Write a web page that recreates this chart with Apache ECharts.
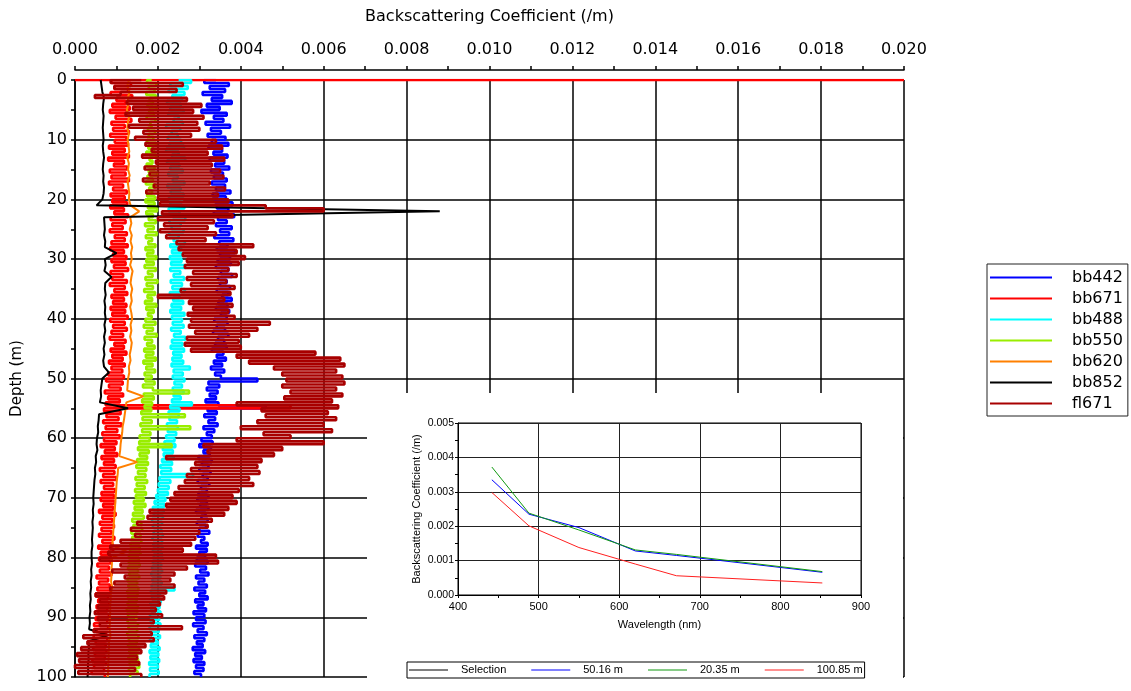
<!DOCTYPE html>
<html>
<head>
<meta charset="utf-8">
<title>Backscattering profiles</title>
<script src="https://cdn.jsdelivr.net/npm/echarts@6/dist/echarts.min.js"></script>
<style>
  html, body { margin: 0; padding: 0; background: #ffffff; }
  #chart { width: 1131px; height: 691px; }
</style>
</head>
<body>
<div id="chart"></div>
<script>
// ---- Depth profiles (values in 10^-3 /m, sampled top to bottom) ----
const MILLI = 0.001;
const fineStep = 0.5;   // m between samples for the noisy channels
const coarseStep = 1.0; // m between samples for the smooth channels

const bb442 = [
  3.40,3.12,3.71,3.25,3.62,3.08,3.55,3.30,3.78,3.18,3.49,3.05,3.66,3.35,3.58,3.15,3.74,3.28,3.52,3.20,3.63,
  3.30,3.70,3.22,3.55,3.34,3.68,3.25,3.60,3.38,3.72,3.28,3.57,3.35,3.66,3.30,3.62,3.40,3.75,3.32,3.64,
  3.38,3.80,3.42,3.70,3.35,3.84,3.45,3.66,3.40,3.78,3.50,3.72,3.36,3.82,3.48,3.68,3.42,3.86,3.50,3.74,
  3.44,3.76,3.40,3.70,3.52,3.79,3.45,3.66,3.50,3.74,3.42,3.70,3.55,3.78,3.46,3.68,3.40,3.72,3.52,3.66,
  3.36,3.68,3.42,3.62,3.33,3.70,3.45,3.60,3.38,3.66,3.30,3.58,3.42,3.64,3.35,3.55,3.28,3.60,3.38,3.52,
  4.40,3.22,3.48,3.18,3.44,3.25,3.40,3.15,3.46,4.60,3.20,3.42,3.12,3.38,3.22,3.44,3.10,3.36,3.18,3.30,
  3.05,3.32,3.00,3.28,3.10,3.25,2.98,3.30,3.06,3.22,3.00,3.27,3.08,3.20,2.96,3.24,3.04,3.18,2.98,3.22,
  2.95,3.18,3.02,3.22,2.92,3.15,3.05,3.20,2.94,3.16,3.00,3.24,2.96,3.12,3.04,3.20,2.92,3.18,3.00,3.14,
  2.94,3.20,2.90,3.16,3.02,3.22,2.92,3.12,2.98,3.18,2.88,3.14,3.00,3.20,2.90,3.10,2.96,3.16,2.86,3.12,
  2.92,3.15,2.85,3.10,2.96,3.18,2.88,3.12,2.94,3.08,2.84,3.14,2.90,3.06,2.86,3.12,2.92,3.10,2.88,3.04
];

const bb671 = [
  1.10,0.88,1.35,0.95,1.28,0.86,1.38,1.00,1.22,0.90,1.32,0.84,1.25,0.98,1.36,0.88,1.20,0.92,1.30,0.85,1.24,
  0.96,1.28,0.82,1.20,0.90,1.30,0.80,1.18,0.94,1.26,0.84,1.22,0.88,1.30,0.82,1.16,0.92,1.25,0.86,1.20,
  0.90,1.26,0.85,1.18,0.95,1.28,0.86,1.22,0.90,1.15,0.84,1.25,0.96,1.20,0.88,1.27,0.85,1.18,0.92,1.24,
  0.88,1.22,0.94,1.28,0.86,1.16,0.90,1.25,0.84,1.20,0.95,1.26,0.88,1.18,0.92,1.24,0.86,1.21,0.90,1.27,
  0.85,1.20,0.92,1.25,0.88,1.16,0.84,1.22,0.95,1.18,0.86,1.24,0.90,1.15,0.82,1.20,0.88,1.14,0.80,1.18,
  0.75,1.15,0.82,1.10,0.72,1.16,0.80,1.08,0.74,5.20,0.70,1.10,0.76,1.05,0.68,1.12,0.74,1.02,0.66,1.08,
  0.70,1.00,0.62,0.96,0.72,1.02,0.64,0.94,0.70,0.98,0.60,0.95,0.68,1.00,0.62,0.92,0.70,0.97,0.64,0.94,
  0.62,0.96,0.68,0.92,0.58,0.98,0.66,0.90,0.60,0.94,0.64,0.88,0.58,0.95,0.66,0.90,0.56,0.92,0.62,0.86,
  0.58,0.86,0.54,0.82,0.60,0.88,0.52,0.80,0.58,0.84,0.54,0.86,0.50,0.80,0.56,0.83,0.52,0.78,0.55,0.82,
  0.50,0.78,0.46,0.80,0.52,0.75,0.45,0.78,0.50,0.74,0.44,0.76,0.48,0.72,0.42,0.75,0.46,0.70,0.40,0.72
];
// surface sweep recorded by bb671 at 0 m before the cast
const bb671Surface = [0.0, 20.0];

const bb488 = [
  2.50,2.80,2.30,2.72,2.26,2.64,2.35,2.58,2.22,2.55,2.30,2.62,2.25,2.50,2.38,2.60,2.20,2.54,2.33,2.48,2.24,
  2.56,2.28,2.63,2.20,2.50,2.34,2.66,2.22,2.52,2.30,2.60,2.25,2.48,2.36,2.64,2.23,2.55,2.31,2.62,2.27,
  2.58,2.30,2.64,2.26,2.52,2.36,2.66,2.28,2.55,2.33,2.62,2.27,2.50,2.38,2.65,2.30,2.56,2.34,2.60,2.29,
  2.57,2.32,2.66,2.30,2.54,2.38,2.63,2.31,2.58,2.35,2.65,2.29,2.52,2.37,2.61,2.33,2.56,2.30,2.64,2.34,
  2.58,2.36,2.62,2.32,2.55,2.39,2.66,2.34,2.59,2.31,2.63,2.37,2.57,2.35,2.61,2.33,2.77,2.38,2.60,2.36,
  2.64,2.40,2.58,2.36,2.62,2.38,2.55,2.34,2.82,2.30,2.52,2.26,2.50,2.28,2.46,2.22,2.48,2.24,2.44,2.20,
  2.40,2.16,2.42,2.12,2.36,2.14,2.38,2.10,2.34,2.06,2.32,2.08,2.85,2.04,2.30,2.02,2.26,2.00,2.24,1.96,
  2.18,1.92,2.16,1.88,2.14,1.90,2.12,1.86,2.10,1.88,2.08,1.90,2.12,1.87,2.10,1.89,2.11,1.88,2.09,1.90,
  2.12,1.88,2.08,1.86,2.10,1.84,2.06,1.87,2.09,1.85,2.40,1.83,2.05,1.86,2.07,1.82,2.04,1.84,2.06,1.81,
  2.03,1.83,2.06,1.80,2.02,1.84,2.05,1.81,2.00,1.83,2.04,1.80,2.01,1.82,2.03,1.79,2.00,1.81,2.02,1.80
];

const bb550 = [
  1.85,1.74,1.96,1.78,1.92,1.72,1.95,1.80,1.88,1.75,1.97,1.79,1.90,1.73,1.94,1.82,1.86,1.76,1.93,1.78,1.89,
  1.74,1.95,1.77,1.90,1.72,1.96,1.80,1.87,1.73,1.92,1.78,1.98,1.75,1.88,1.71,1.94,1.79,1.86,1.74,1.93,
  1.70,1.92,1.76,1.98,1.72,1.88,1.78,1.95,1.69,1.90,1.75,1.97,1.71,1.86,1.77,1.94,1.70,1.89,1.74,1.96,
  1.72,1.90,1.68,1.95,1.76,1.87,1.70,1.99,1.73,1.88,1.67,1.93,1.75,1.86,1.69,1.96,1.72,1.90,1.76,1.85,
  1.70,1.94,1.66,1.88,1.73,1.97,1.68,1.86,1.74,1.92,1.67,1.89,1.71,1.95,1.65,1.87,1.72,1.93,1.68,1.85,
  1.70,1.92,1.64,1.88,2.75,1.66,1.90,1.62,1.86,1.68,1.84,1.60,2.65,1.63,1.85,1.58,2.78,1.62,1.82,1.56,
  1.80,1.55,2.33,1.52,1.78,1.56,1.74,1.50,1.76,1.48,1.72,1.52,1.70,1.46,1.74,1.49,1.68,1.45,1.71,1.47,
  1.66,1.42,1.70,1.44,1.63,1.40,1.66,1.38,1.60,1.41,1.62,1.36,1.58,1.38,1.60,1.34,1.56,1.33,1.58,1.30,
  1.54,1.30,1.56,1.28,1.52,1.31,1.55,1.27,1.50,1.29,1.53,1.26,1.51,1.28,1.49,1.27,1.52,1.25,1.50,1.28,
  1.48,1.27,1.52,1.29,1.50,1.26,1.53,1.30,1.49,1.28,1.54,1.31,1.50,1.29,1.52,1.32,1.55,1.30,1.51,1.33
];

const bb620 = [
  1.30,1.26,1.32,1.27,1.29,1.25,1.31,1.28,1.26,1.30,
  1.27,1.29,1.31,1.26,1.30,1.28,1.32,1.27,1.29,1.31,
  1.30,1.34,1.55,1.33,1.36,1.32,1.37,1.34,1.38,1.35,
  1.37,1.33,1.39,1.36,1.34,1.38,1.35,1.37,1.33,1.36,
  1.38,1.34,1.36,1.33,1.37,1.35,1.32,1.34,1.30,1.31,
  1.28,1.27,1.26,1.65,1.24,1.22,1.20,1.18,1.15,1.14,
  1.12,1.10,1.09,1.07,1.50,1.04,1.03,1.01,1.00,0.99,
  0.98,0.97,0.96,0.95,0.94,0.93,0.92,0.91,0.90,1.25,
  0.89,0.89,0.88,0.88,0.87,0.90,0.86,0.86,0.85,0.85,
  0.84,0.84,0.83,0.86,0.82,0.82,0.81,0.81,0.80,0.80,
  0.79
];

const bb852 = [
  0.62,0.64,0.66,0.70,0.68,0.67,0.69,0.68,0.67,0.68,
  0.69,0.67,0.68,0.70,0.68,0.67,0.69,0.68,0.70,0.69,
  0.66,0.52,8.80,0.70,0.71,0.72,0.70,0.73,0.72,1.00,
  0.72,0.74,0.71,0.88,0.73,0.72,0.74,0.71,0.73,0.72,
  0.74,0.71,0.73,0.70,0.72,0.69,0.71,0.68,0.70,0.82,
  0.66,0.64,0.62,0.63,0.60,1.28,0.58,0.57,0.55,0.56,
  0.53,0.52,0.54,0.50,0.51,0.48,0.49,0.47,0.46,0.45,
  0.44,0.45,0.43,0.44,0.42,0.43,0.42,0.41,0.42,0.40,
  0.40,0.41,0.39,0.40,0.38,0.39,0.37,0.38,0.36,0.37,
  0.35,0.36,0.34,0.80,0.33,0.34,0.32,0.33,0.31,0.32,
  0.30
];

const fl671 = [
  1.60,0.86,2.60,0.95,2.45,1.10,0.48,2.70,1.25,3.05,1.40,2.85,1.22,3.10,1.55,2.95,1.30,3.00,1.65,2.80,1.45,
  3.40,1.70,3.55,1.85,3.20,1.62,3.60,1.95,3.30,1.68,3.50,1.80,3.58,1.64,3.25,1.90,3.62,1.72,3.45,2.00,
  3.70,2.05,4.60,6.00,2.10,3.80,2.00,3.35,2.15,3.20,2.05,3.40,2.20,3.15,2.45,4.30,2.50,3.90,2.60,4.10,
  2.70,3.95,2.65,3.70,2.85,3.90,2.70,3.65,2.80,3.85,2.55,3.75,2.00,3.60,2.75,3.80,2.85,3.70,2.72,3.85,
  2.80,4.70,2.75,4.40,2.90,4.20,2.70,3.95,2.65,4.00,2.80,5.80,3.90,6.40,4.20,6.50,4.80,6.30,5.00,6.45,
  5.10,6.50,5.00,6.30,5.20,6.45,5.05,6.20,3.90,6.35,4.50,6.10,4.60,6.30,4.40,6.00,4.00,6.20,4.55,5.20,
  3.90,6.00,3.10,5.00,3.20,4.80,2.20,4.50,2.90,4.40,2.80,4.45,2.70,4.20,2.65,4.30,2.50,3.95,2.40,3.80,
  2.30,3.90,2.20,3.70,1.80,3.60,1.75,3.30,1.50,3.20,1.35,3.00,1.45,2.90,1.10,2.80,0.85,2.60,0.80,3.40,
  0.60,3.45,1.10,2.70,0.90,2.40,1.20,2.30,0.95,2.40,0.85,2.20,0.50,2.15,0.60,2.05,0.55,1.95,0.48,2.10,
  0.55,1.90,0.60,2.58,0.45,1.85,0.20,1.90,0.30,1.70,0.15,1.60,0.05,1.50,0.10,1.55,0.00,1.45,0.08,1.60
];

// ---- Spectra at selected depths (/m) ----
const wavelengths = [442, 488, 550, 620, 671, 852];
const spectrum5016 = [0.00335, 0.00235, 0.00196, 0.00128, 0.00115, 0.00066];
const spectrum2035 = [0.00372, 0.00238, 0.00189, 0.00131, 0.00118, 0.00068];
const spectrum10085 = [0.00298, 0.00201, 0.00138, 0.00090, 0.00056, 0.00035];

const depthTicks = { min: 0, max: 100, step: 10 };
const coefTicks = { min: 0, max: 0.02, step: 0.002 };
const waveTicks = { min: 400, max: 900, step: 100 };
const spectrumTicks = { min: 0, max: 0.005, step: 0.001 };

// ---- build series ----
const profile = (vals, step) => vals.map((v, i) => [v * MILLI, i * step]);
const pairs = (xs, ys) => xs.map((x, i) => [x, ys[i]]);

const MAIN_FONT = 'DejaVu Sans';
const INSET_FONT = 'Liberation Sans';

// noisy channels are drawn as horizontal strokes at each sample depth
function profileSeries(name, color, data, stepped, width) {
  return {
    name, type: 'line', xAxisIndex: 0, yAxisIndex: 0,
    data, symbol: 'none', showSymbol: false, color,
    step: stepped ? 'end' : false,
    lineStyle: { color, width: width || 1 },
    z: 2, silent: true
  };
}

function spectrumSeries(name, color, data) {
  return {
    name, type: 'line', xAxisIndex: 1, yAxisIndex: 1,
    data, symbol: 'none', showSymbol: false, color,
    lineStyle: { color, width: 1 },
    z: 60, silent: true
  };
}

const series = [
  profileSeries('bb442', '#0000ff', profile(bb442, fineStep), true, 2.6),
  profileSeries('bb671', '#ff0000',
    bb671Surface.map(v => [v * MILLI, 0]).concat(profile(bb671, fineStep)), true, 2.6),
  profileSeries('bb488', '#00ffff', profile(bb488, fineStep), true, 2.6),
  profileSeries('bb550', '#99ee00', profile(bb550, fineStep), true, 2.6),
  profileSeries('bb620', '#ff8000', profile(bb620, coarseStep), false, 2),
  profileSeries('bb852', '#000000', profile(bb852, coarseStep), false, 2),
  profileSeries('fl671', '#a80000', profile(fl671, fineStep), true, 2.6),
  spectrumSeries('Selection', '#000000', []),
  spectrumSeries('50.16 m', '#0000ff', pairs(wavelengths, spectrum5016)),
  spectrumSeries('20.35 m', '#109a10', pairs(wavelengths, spectrum2035)),
  spectrumSeries('100.85 m', '#ff2020', pairs(wavelengths, spectrum10085))
];

const blackLine = (w) => ({ lineStyle: { color: '#000', width: w } });

const option = {
  animation: false,
  backgroundColor: '#ffffff',
  textStyle: { fontFamily: MAIN_FONT, color: '#000' },
  grid: [
    { left: 75, right: 227, top: 80, bottom: 14, containLabel: false },
    { left: 458, right: 270, top: 423, bottom: 96, show: true,
      borderColor: '#000', borderWidth: 1, backgroundColor: 'transparent', z: 60 }
  ],
  graphic: [
    { type: 'rect', z: 50, silent: true,
      shape: { x: 367, y: 393, width: 536, height: 298 },
      style: { fill: '#ffffff' } }
  ],
  xAxis: [
    {
      gridIndex: 0, type: 'value', position: 'top', offset: 10,
      min: coefTicks.min, max: coefTicks.max, interval: coefTicks.step,
      name: 'Backscattering Coefficient (/m)', nameLocation: 'middle', nameGap: 45,
      nameTextStyle: { fontSize: 16, color: '#000', fontFamily: MAIN_FONT },
      axisLine: { onZero: false, ...blackLine(1.5) },
      axisTick: { length: 4, ...blackLine(1.5) },
      minorTick: { show: true, splitNumber: 2, length: 4, ...blackLine(1.5) },
      axisLabel: { fontSize: 16, color: '#000', margin: 12, fontFamily: MAIN_FONT,
        formatter: v => v.toFixed(3) },
      splitLine: { show: true, ...blackLine(1.5) }
    },
    {
      gridIndex: 1, type: 'value', position: 'bottom', z: 60,
      min: waveTicks.min, max: waveTicks.max, interval: waveTicks.step,
      name: 'Wavelength (nm)', nameLocation: 'middle', nameGap: 24,
      nameTextStyle: { fontSize: 11, color: '#000', fontFamily: INSET_FONT },
      axisLine: { onZero: false, ...blackLine(1) },
      axisTick: { length: 3, ...blackLine(1) },
      minorTick: { show: true, splitNumber: 2, length: 3, ...blackLine(1) },
      axisLabel: { fontSize: 11, color: '#000', margin: 6, fontFamily: INSET_FONT },
      splitLine: { show: true, lineStyle: { color: '#222', width: 1 } }
    }
  ],
  yAxis: [
    {
      gridIndex: 0, type: 'value', inverse: true, position: 'left',
      min: depthTicks.min, max: depthTicks.max, interval: depthTicks.step,
      name: 'Depth (m)', nameLocation: 'middle', nameGap: 50, nameRotate: 90,
      nameTextStyle: { fontSize: 15, color: '#000', fontFamily: MAIN_FONT },
      axisLine: { onZero: false, ...blackLine(1.5) },
      axisTick: { length: 4, ...blackLine(1.5) },
      minorTick: { show: true, splitNumber: 2, length: 4, ...blackLine(1.5) },
      axisLabel: { fontSize: 16, color: '#000', margin: 8, fontFamily: MAIN_FONT },
      splitLine: { show: true, ...blackLine(1.5) }
    },
    {
      gridIndex: 1, type: 'value', position: 'left', z: 60,
      min: spectrumTicks.min, max: spectrumTicks.max, interval: spectrumTicks.step,
      name: 'Backscattering Coefficient (/m)', nameLocation: 'middle', nameGap: 36,
      nameTextStyle: { fontSize: 11, color: '#000', fontFamily: INSET_FONT },
      axisLine: { onZero: false, ...blackLine(1) },
      axisTick: { length: 3, ...blackLine(1) },
      minorTick: { show: true, splitNumber: 2, length: 3, ...blackLine(1) },
      axisLabel: { fontSize: 10.5, color: '#000', margin: 4, fontFamily: INSET_FONT,
        formatter: v => v.toFixed(3) },
      splitLine: { show: true, lineStyle: { color: '#222', width: 1 } }
    }
  ],
  legend: [
    {
      data: ['bb442', 'bb671', 'bb488', 'bb550', 'bb620', 'bb852', 'fl671'],
      orient: 'vertical', left: 987, top: 264, icon: 'rect',
      padding: [3, 5, 2, 3], itemGap: 0, itemWidth: 62, itemHeight: 2,
      borderColor: '#222', borderWidth: 1, selectedMode: false,
      textStyle: { fontSize: 16, fontFamily: MAIN_FONT, color: '#000',
        lineHeight: 21, padding: [0, 0, 0, 15] }
    },
    {
      data: ['Selection', '50.16 m', '20.35 m', '100.85 m'],
      orient: 'horizontal', left: 407, top: 662, z: 60, icon: 'rect',
      padding: [2, 2, 2, 2], itemGap: 25, itemWidth: 39, itemHeight: 1,
      borderColor: '#000', borderWidth: 1, selectedMode: false,
      textStyle: { fontSize: 11, fontFamily: INSET_FONT, color: '#000',
        lineHeight: 12, padding: [0, 0, 0, 8] }
    }
  ],
  series
};

const chart = echarts.init(document.getElementById('chart'), null, { renderer: 'canvas' });
chart.setOption(option);
</script>
</body>
</html>
